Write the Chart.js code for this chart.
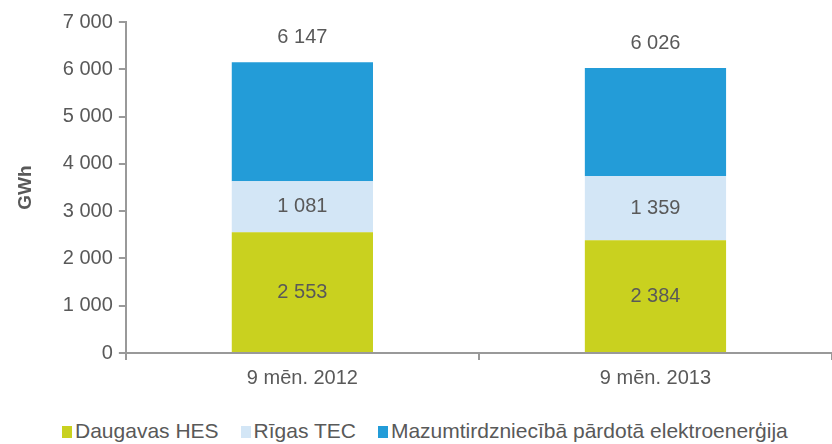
<!DOCTYPE html>
<html lang="lv">
<head>
    <meta charset="UTF-8">
    <title>GWh</title>
    <style>
        body { margin: 0; background: #fff; font-family: "Liberation Sans", Arial, sans-serif; }
        #wrap { position: relative; width: 832px; height: 444px; }
        #chartBox { position: absolute; left: 0; top: 0; width: 832px; height: 404px; }
        #legend { position: absolute; left: 62px; top: 419px; display: flex; color: #595959; font-size: 21px; line-height: 24px; white-space: nowrap; }
        #legend span.item { display: flex; align-items: center; margin-right: 22px; }
        #legend span.box { display: inline-block; width: 10px; height: 12px; margin-right: 3px; margin-top: 1px; }
    </style>
</head>
<body>
    <div id="wrap">
        <div id="chartBox"><canvas id="chart"></canvas></div>
        <div id="legend"></div>
    </div>
    <script src="https://cdn.jsdelivr.net/npm/chart.js"></script>
    <script>
        const categories = ['9 mēn. 2012', '9 mēn. 2013'];
        const daugavasHes = [2553, 2384];
        const rigasTec = [1081, 1359];
        const mazumtirdzniecība = [2513, 2283];
        const totals = [6147, 6026];
        const yTicks = [0, 1000, 2000, 3000, 4000, 5000, 6000, 7000];

        const fmt = v => String(v).replace(/\B(?=(\d{3})+(?!\d))/g, ' ');
        const textColor = '#595959';
        const fontFamily = '"Liberation Sans", Arial, sans-serif';

        const labelPlugin = {
            id: 'labels',
            afterDatasetsDraw(chart) {
                const ctx = chart.ctx;
                ctx.save();
                ctx.font = '20px ' + fontFamily;
                ctx.fillStyle = textColor;
                ctx.textAlign = 'center';
                ctx.textBaseline = 'middle';
                // values inside the two lower segments
                [0, 1].forEach(di => {
                    chart.getDatasetMeta(di).data.forEach((el, i) => {
                        const v = chart.data.datasets[di].data[i];
                        ctx.fillText(fmt(v), el.x, (el.y + el.base) / 2);
                    });
                });
                // totals above the bars
                const top = chart.getDatasetMeta(2).data;
                const y = chart.scales.y;
                totals.forEach((t, i) => {
                    ctx.fillText(fmt(t), top[i].x, y.getPixelForValue(t) - 25);
                });
                ctx.restore();
            }
        };

        const chart = new Chart(document.getElementById('chart'), {
            type: 'bar',
            data: {
                labels: categories,
                datasets: [
                    { label: 'Daugavas HES', data: daugavasHes, backgroundColor: '#C9D11F' },
                    { label: 'Rīgas TEC', data: rigasTec, backgroundColor: '#D3E6F6' },
                    { label: 'Mazumtirdzniecībā pārdotā elektroenerģija', data: mazumtirdzniecība, backgroundColor: '#239CD8' }
                ]
            },
            options: {
                responsive: true,
                maintainAspectRatio: false,
                animation: false,
                layout: { padding: { left: 14, right: 0, top: 22, bottom: 8 } },
                datasets: { bar: { categoryPercentage: 0.8, barPercentage: 0.5 } },
                plugins: {
                    tooltip: { enabled: false },
                    legend: { display: false }
                },
                scales: {
                    x: {
                        stacked: true,
                        border: { color: '#999', width: 2 },
                        grid: { drawOnChartArea: false, tickLength: 7, color: '#999', lineWidth: 2 },
                        ticks: {
                            color: textColor,
                            padding: 6,
                            font: { size: 20, family: fontFamily }
                        }
                    },
                    y: {
                        stacked: true,
                        min: 0,
                        max: 7000,
                        afterBuildTicks: ax => { ax.ticks = yTicks.map(v => ({ value: v })); },
                        border: { color: '#999', width: 2 },
                        grid: { drawOnChartArea: false, tickLength: 7, color: '#999', lineWidth: 2 },
                        title: {
                            display: true,
                            text: 'GWh',
                            color: textColor,
                            padding: { top: 0, bottom: 20 },
                            font: { size: 19, weight: 'bold', family: fontFamily }
                        },
                        ticks: {
                            color: textColor,
                            padding: 6,
                            callback: v => fmt(v),
                            font: { size: 20, family: fontFamily }
                        }
                    }
                }
            },
            plugins: [labelPlugin]
        });

        // legend built from the datasets
        const legend = document.getElementById('legend');
        chart.data.datasets.forEach(ds => {
            const item = document.createElement('span');
            item.className = 'item';
            const box = document.createElement('span');
            box.className = 'box';
            box.style.background = ds.backgroundColor;
            item.appendChild(box);
            item.appendChild(document.createTextNode(ds.label));
            legend.appendChild(item);
        });
    </script>
</body>
</html>
